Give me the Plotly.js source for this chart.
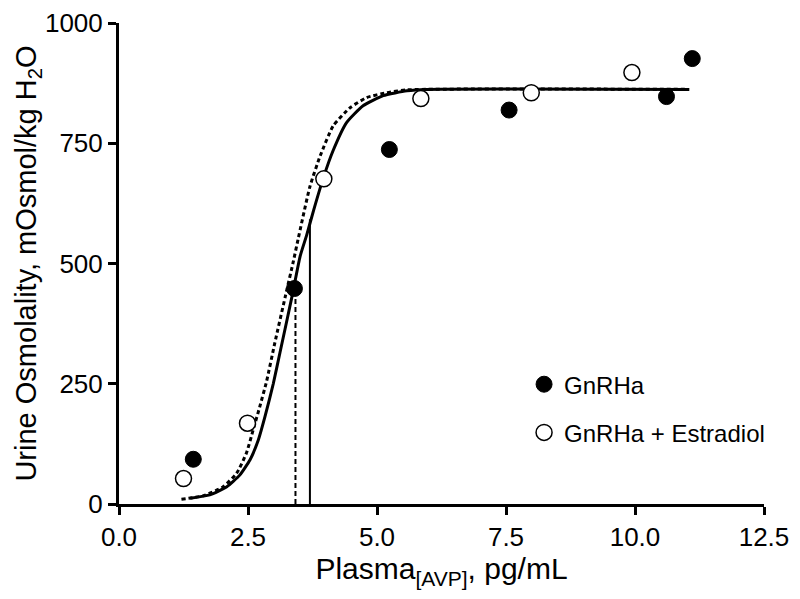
<!DOCTYPE html>
<html>
<head>
<meta charset="utf-8">
<script src="https://cdn.plot.ly/plotly-3.0.1.min.js"></script>
<style>
  html, body { margin: 0; padding: 0; background: #fff; }
  #chart { width: 800px; height: 599px; }
</style>
</head>
<body>
<div id="chart"></div>
<script>
// measured points
const gnrhaX = [1.44, 3.40, 5.24, 7.56, 10.61, 11.11];
const gnrhaY = [93, 448, 737, 819, 847, 926];
const estX = [1.25, 2.49, 3.97, 5.85, 7.99, 9.94];
const estY = [53, 168, 676, 843, 855, 897];

// fitted curves
const fitSolidX = [1.38, 1.76, 2.09, 2.34, 2.54, 2.70, 2.83, 2.99, 3.12, 3.35, 3.51, 3.64, 3.77, 3.96, 4.15, 4.41, 4.73, 5.12, 5.58, 5.96, 11.05];
const fitSolidY = [12, 19, 36, 60, 92, 133, 182, 250, 315, 430, 515, 560, 610, 678, 735, 793, 828, 849, 859, 862, 862];
const fitDotX = [1.21, 1.63, 2.02, 2.28, 2.47, 2.60, 2.73, 2.86, 3.02, 3.22, 3.38, 3.47, 3.70, 3.90, 4.15, 4.48, 4.80, 5.19, 5.58, 11.05];
const fitDotY = [10, 17, 36, 64, 106, 154, 203, 255, 335, 430, 505, 550, 660, 724, 786, 824, 845, 855, 861, 862];

// vertical markers (threshold lines)
const solidMarkX = 3.70, solidMarkTop = 592;
const dotMarkX = 3.42, dotMarkTop = 445;

const FONT = 'Liberation Sans, Arial, sans-serif';

const traces = [
  {
    x: fitDotX, y: fitDotY, mode: 'lines', type: 'scatter', showlegend: false,
    line: { color: '#000', width: 3, dash: '4px,3px', shape: 'spline', smoothing: 0.5 }, hoverinfo: 'skip'
  },
  {
    x: fitSolidX, y: fitSolidY, mode: 'lines', type: 'scatter', showlegend: false,
    line: { color: '#000', width: 3, shape: 'spline', smoothing: 0.5 }, hoverinfo: 'skip'
  },
  {
    x: [dotMarkX, dotMarkX], y: [0, dotMarkTop], mode: 'lines', type: 'scatter', showlegend: false,
    line: { color: '#000', width: 2, dash: '5px,3px' }, hoverinfo: 'skip'
  },
  {
    x: [solidMarkX, solidMarkX], y: [0, solidMarkTop], mode: 'lines', type: 'scatter', showlegend: false,
    line: { color: '#000', width: 2 }, hoverinfo: 'skip'
  },
  {
    x: gnrhaX, y: gnrhaY, mode: 'markers', type: 'scatter', name: 'GnRHa',
    legendgroup: 'a', cliponaxis: false,
    marker: { size: 16, color: '#000', line: { color: '#000', width: 1 } }
  },
  {
    x: estX, y: estY, mode: 'markers', type: 'scatter', name: 'GnRHa + Estradiol',
    legendgroup: 'b', cliponaxis: false,
    marker: { size: 16, color: '#fff', line: { color: '#000', width: 1.5 } }
  }
];

const axisCommon = {
  showgrid: false,
  zeroline: false,
  showline: true,
  linecolor: '#000',
  linewidth: 3,
  ticks: 'outside',
  ticklen: 8,
  tickwidth: 3,
  tickcolor: '#000',
  tickfont: { family: FONT, size: 26, color: '#000' }
};

const layout = {
  width: 800,
  height: 599,
  margin: { l: 119, r: 36, t: 23, b: 95 },
  paper_bgcolor: '#fff',
  plot_bgcolor: '#fff',
  font: { family: FONT, color: '#000' },
  xaxis: Object.assign({}, axisCommon, {
    range: [0, 12.5],
    tickvals: [0, 2.5, 5, 7.5, 10, 12.5],
    ticktext: ['0.0', '2.5', '5.0', '7.5', '10.0', '12.5'],
    title: { text: 'Plasma<sub>[AVP]</sub>, pg/mL', font: { family: FONT, size: 30 }, standoff: 0 }
  }),
  yaxis: Object.assign({}, axisCommon, {
    range: [0, 1000],
    tickvals: [0, 250, 500, 750, 1000],
    title: { text: 'Urine Osmolality, mOsmol/kg H<sub>2</sub>O', font: { family: FONT, size: 29 }, standoff: 0 }
  }),
  showlegend: true,
  legend: {
    x: 0.628, y: 0.295, xanchor: 'left', yanchor: 'top',
    traceorder: 'grouped', tracegroupgap: 14,
    bgcolor: 'rgba(0,0,0,0)',
    font: { family: FONT, size: 24, color: '#000' }
  }
};

Plotly.newPlot('chart', traces, layout, { displayModeBar: false, staticPlot: true });
</script>
</body>
</html>
